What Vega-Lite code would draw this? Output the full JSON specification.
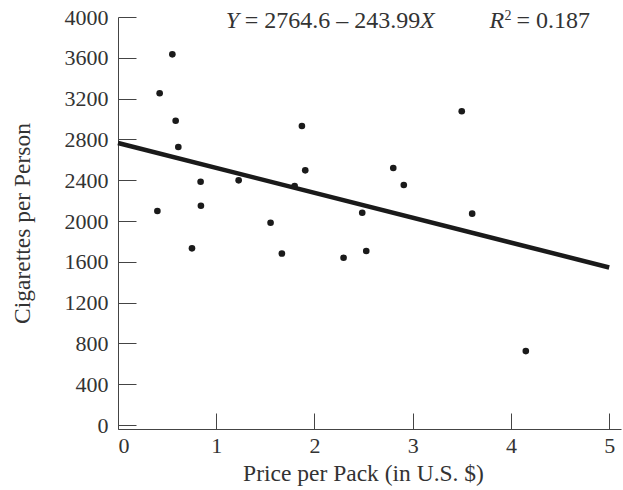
{
  "$schema": "https://vega.github.io/schema/vega-lite/v6.json",
  "autosize": "none",
  "padding": {"left": 118, "top": 17, "right": 2, "bottom": 61},
  "width": 503,
  "height": 412,
  "background": "white",
  "config": {
    "view": {"stroke": null},
    "font": "Liberation Serif",
    "text": {"font": "Liberation Serif", "fontSize": 24, "color": "#333333", "baseline": "alphabetic", "align": "left"},
    "axis": {
      "grid": false,
      "domainColor": "#444444",
      "tickColor": "#444444",
      "domainWidth": 1,
      "tickWidth": 1,
      "labelFont": "Liberation Serif",
      "labelFontSize": 22,
      "labelColor": "#333333",
      "titleFont": "Liberation Serif",
      "titleFontSize": 23.5,
      "titleFontWeight": "normal",
      "titleColor": "#333333"
    }
  },
  "datasets": {
    "states": [
      {"price": 0.553, "cigarettes": 3634},
      {"price": 0.424, "cigarettes": 3252},
      {"price": 0.587, "cigarettes": 2983},
      {"price": 1.872, "cigarettes": 2931},
      {"price": 0.614, "cigarettes": 2726},
      {"price": 0.841, "cigarettes": 2385},
      {"price": 1.228, "cigarettes": 2399},
      {"price": 1.906, "cigarettes": 2497},
      {"price": 1.798, "cigarettes": 2343},
      {"price": 0.401, "cigarettes": 2098},
      {"price": 0.844, "cigarettes": 2150},
      {"price": 1.553, "cigarettes": 1983},
      {"price": 0.753, "cigarettes": 1732},
      {"price": 1.668, "cigarettes": 1681},
      {"price": 2.802, "cigarettes": 2520},
      {"price": 2.909, "cigarettes": 2353},
      {"price": 2.486, "cigarettes": 2081},
      {"price": 2.296, "cigarettes": 1640},
      {"price": 2.527, "cigarettes": 1706},
      {"price": 3.499, "cigarettes": 3076},
      {"price": 3.605, "cigarettes": 2072},
      {"price": 4.151, "cigarettes": 725}
    ],
    "fit": [
      {"price": 0, "cigarettes": 2764.6},
      {"price": 5, "cigarettes": 1544.65}
    ],
    "one": [{}]
  },
  "layer": [
    {
      "data": {"name": "fit"},
      "mark": {"type": "line", "color": "#1a1a1a", "strokeWidth": 4.5, "strokeCap": "butt"},
      "encoding": {
        "x": {
          "field": "price",
          "type": "quantitative",
          "scale": {"domain": [0, 5.12], "nice": false, "zero": false},
          "axis": {
            "values": [0, 1, 2, 3, 4, 5],
            "format": "d",
            "tickSize": -16,
            "labelPadding": 22,
            "title": "Price per Pack (in U.S. $)",
            "titlePadding": 5,
            "titleX": 245,
            "titleAnchor": "middle"
          }
        },
        "y": {
          "field": "cigarettes",
          "type": "quantitative",
          "scale": {"domain": [-39, 4000], "nice": false, "zero": false},
          "axis": {
            "values": [0, 400, 800, 1200, 1600, 2000, 2400, 2800, 3200, 3600, 4000],
            "format": "d",
            "tickSize": -18,
            "labelPadding": 28,
            "title": "Cigarettes per Person",
            "titlePadding": 30
          }
        }
      }
    },
    {
      "data": {"name": "states"},
      "mark": {"type": "circle", "color": "#1a1a1a", "size": 44, "opacity": 1},
      "encoding": {
        "x": {"field": "price", "type": "quantitative"},
        "y": {"field": "cigarettes", "type": "quantitative"}
      }
    },
    {
      "data": {"name": "one"},
      "mark": {"type": "text", "text": "Y", "fontStyle": "italic"},
      "encoding": {"x": {"datum": 1.096}, "y": {"datum": 3889}}
    },
    {
      "data": {"name": "one"},
      "mark": {"type": "text", "text": "= 2764.6 – 243.99"},
      "encoding": {"x": {"datum": 1.289}, "y": {"datum": 3889}}
    },
    {
      "data": {"name": "one"},
      "mark": {"type": "text", "text": "X", "fontStyle": "italic"},
      "encoding": {"x": {"datum": 3.074}, "y": {"datum": 3889}}
    },
    {
      "data": {"name": "one"},
      "mark": {"type": "text", "text": "R", "fontStyle": "italic"},
      "encoding": {"x": {"datum": 3.781}, "y": {"datum": 3889}}
    },
    {
      "data": {"name": "one"},
      "mark": {"type": "text", "text": "2", "fontSize": 14},
      "encoding": {"x": {"datum": 3.934}, "y": {"datum": 3975}}
    },
    {
      "data": {"name": "one"},
      "mark": {"type": "text", "text": "= 0.187"},
      "encoding": {"x": {"datum": 4.056}, "y": {"datum": 3889}}
    }
  ]
}
